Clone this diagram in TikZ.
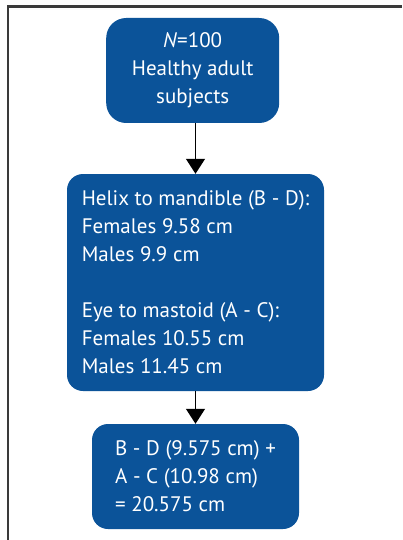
\documentclass[tikz,border=0pt]{standalone}
\usepackage{fontspec}
\setmainfont{PT Sans}
\usetikzlibrary{arrows.meta,positioning}
\definecolor{boxblue}{HTML}{0B5399}
\definecolor{framegray}{HTML}{3A3A3A}

\begin{document}
\begin{tikzpicture}[x=1pt,y=-1pt,
    box/.style={draw=none, fill=boxblue, text=white, rounded corners=16pt,
        font=\fontsize{21}{28}\selectfont, inner sep=0pt},
    arr/.style={-{Triangle[width=19pt,length=15pt]}, line width=1.3pt, black}]
    \useasboundingbox (0,0) rectangle (402,540);

    % frame
    \draw[framegray, line width=2.2pt] (8,540) -- (8,6.5) -- (402,6.5);

    \node[box, rounded corners=20pt, minimum width=173pt, minimum height=105pt, align=center] (subjects) at (192.7,70.5)
        {\textit{N}=100\\Healthy adult\\subjects};

    \node[box, minimum width=257pt, minimum height=217pt, align=left] (measures) at (195.5,282.5)
        {Helix to mandible (B - D):\\Females 9.58 cm\\Males 9.9 cm\\[28pt]Eye to mastoid (A - C):\\Females 10.55 cm\\Males 11.45 cm};

    \node[box, minimum width=207pt, minimum height=105pt, align=left] (total) at (195.5,476.5)
        {B - D (9.575 cm) +\\A - C (10.98 cm)\\= 20.575 cm};

    \draw[arr] (subjects.south -| measures.north) -- (measures.north);
    \draw[arr] (measures.south) -- (total.north);
\end{tikzpicture}
\end{document}
